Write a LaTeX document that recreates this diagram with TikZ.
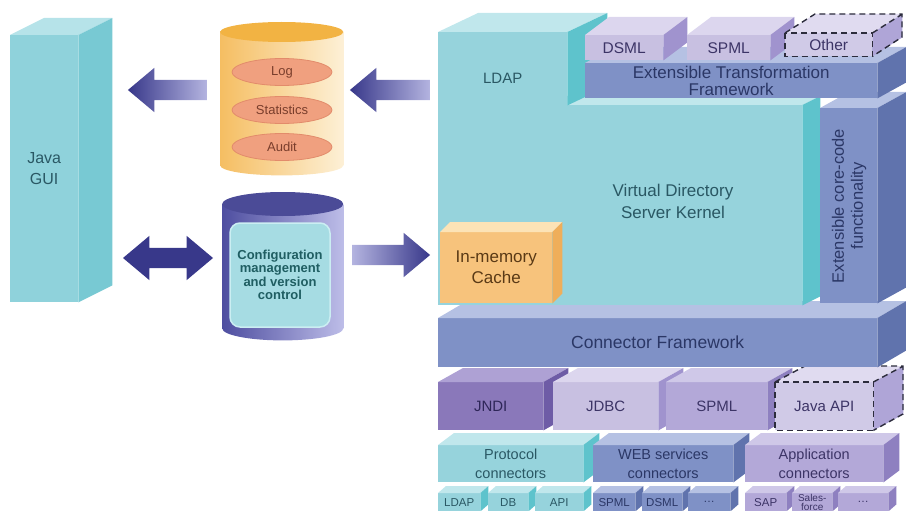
\documentclass[tikz,border=0pt]{standalone}
\usepackage{fontspec}
\setmainfont{Liberation Sans}
\usetikzlibrary{shapes.geometric,shapes.arrows}

% box colours: front, top, side, text
\definecolor{guibox}{HTML}{8FD2DB}
\definecolor{guiboxtop}{HTML}{B6E3E9}
\definecolor{guiboxside}{HTML}{78C9D3}
\definecolor{cyanbox}{HTML}{96D3DC}
\definecolor{cyanboxtop}{HTML}{C0E7EC}
\definecolor{cyanboxside}{HTML}{5EC3CC}
\definecolor{cyanboxtx}{HTML}{2A5864}
\definecolor{slatebox}{HTML}{7F91C6}
\definecolor{slateboxtop}{HTML}{B5C1E3}
\definecolor{slateboxside}{HTML}{6073AD}
\definecolor{slateboxtx}{HTML}{2B3766}
\definecolor{lilacbox}{HTML}{C8C0E1}
\definecolor{lilacboxtop}{HTML}{DCD6EE}
\definecolor{lilacboxside}{HTML}{A093CE}
\definecolor{lilacboxtx}{HTML}{3C3466}
\definecolor{lavbox}{HTML}{B3A8D8}
\definecolor{lavboxtop}{HTML}{CFC8E8}
\definecolor{lavboxside}{HTML}{8E80C0}
\definecolor{lavboxtx}{HTML}{3C3466}
\definecolor{purplebox}{HTML}{8A78BA}
\definecolor{purpleboxtop}{HTML}{AEA1D4}
\definecolor{purpleboxside}{HTML}{6E5CA6}
\definecolor{purpleboxtx}{HTML}{2E2658}
\definecolor{dashbox}{HTML}{D0CAE7}
\definecolor{dashboxtop}{HTML}{E0DBF0}
\definecolor{dashboxside}{HTML}{AFA5D7}
\definecolor{dashline}{HTML}{2C2C3C}
\definecolor{cachebox}{HTML}{F7C37C}
\definecolor{cacheboxtop}{HTML}{FCE3B6}
\definecolor{cacheboxside}{HTML}{EFAE5A}
\definecolor{cacheboxtx}{HTML}{5A3A16}
% stores and arrows
\definecolor{logbody}{HTML}{F5BE62}
\definecolor{logbodylight}{HTML}{FDF0D6}
\definecolor{logtop}{HTML}{F2B343}
\definecolor{entryfill}{HTML}{F0A07F}
\definecolor{entryline}{HTML}{E28B6B}
\definecolor{entrytx}{HTML}{7A3E2C}
\definecolor{cfgbody}{HTML}{4E4EA0}
\definecolor{cfgbodylight}{HTML}{BDBDE8}
\definecolor{cfgtop}{HTML}{4B4B97}
\definecolor{cfgfill}{HTML}{A6DCE3}
\definecolor{cfgline}{HTML}{CBEEF2}
\definecolor{cfgtx}{HTML}{1F5E62}
\definecolor{arrowdark}{HTML}{38388A}
\definecolor{arrowlight}{HTML}{B4B4E0}

\tikzset{
  blk/.style={rectangle, inner sep=0pt, anchor=north west, align=center},
  entry/.style={ellipse, fill=entryfill, draw=entryline, line width=0.8pt,
    minimum width=100pt, minimum height=27pt, inner sep=0pt, text=entrytx,
    font=\fontsize{13}{15}\selectfont},
  cfgbox/.style={rectangle, rounded corners=10pt, fill=cfgfill, draw=cfgline,
    line width=1.5pt, minimum width=100pt, minimum height=104pt, align=center,
    text=cfgtx, font=\fontsize{13}{13.5}\selectfont\bfseries},
  bigarrow/.style={single arrow, single arrow head extend=12pt,
    single arrow tip angle=80, minimum width=44pt, inner sep=10pt},
  botharrow/.style={double arrow, double arrow head extend=12pt,
    double arrow tip angle=80, minimum width=44pt, inner sep=10pt},
  dashedge/.style={draw=dashline, dashed, dash pattern=on 6pt off 4pt, line width=1.4pt}
}

% top and side face of a block node: node, dx, dy, colour
\newcommand{\blockfaces}[4]{%
  \fill[fill=#4top] (#1.north west) -- ++(#2,#3) -- ([shift={(#2,#3)}]#1.north east) -- (#1.north east) -- cycle;
  \fill[fill=#4side] (#1.north east) -- ++(#2,#3) -- ([shift={(#2,#3)}]#1.south east) -- (#1.south east) -- cycle;
}

\begin{document}
\begin{tikzpicture}[x=1pt, y=-1pt]
\useasboundingbox (0,0) rectangle (906,511);
\clip (0,0) rectangle (906,511);

% Java GUI
\node[blk, fill=guibox, text=cyanboxtx, minimum width=68pt, minimum height=267pt,
  font=\fontsize{16}{21}\selectfont] (gui) at (10,35) {Java\\GUI};
\blockfaces{gui}{34}{-17}{guibox}

% Log store
\node[inner sep=0pt, minimum width=123pt, minimum height=133pt, anchor=north west] (logdb) at (220,32) {};
\shade[left color=logbody, right color=logbodylight] (logdb.north west) rectangle (logdb.south east);
\shade[left color=logbody, right color=logbodylight] (logdb.south) ellipse [x radius=61.5, y radius=10];
\fill[logtop] (logdb.north) ellipse [x radius=61.5, y radius=10];
\foreach \n/\y/\txt in {log/72/Log, stats/110/Statistics, audit/147/Audit}
  \node[entry] (\n) at (282,\y) {\txt};

% Configuration store
\node[inner sep=0pt, minimum width=121pt, minimum height=124pt, anchor=north west] (cfgdb) at (222,204) {};
\shade[left color=cfgbody, right color=cfgbodylight] (cfgdb.north west) rectangle (cfgdb.south east);
\shade[left color=cfgbody, right color=cfgbodylight] (cfgdb.south) ellipse [x radius=60.5, y radius=12];
\fill[cfgtop] (cfgdb.north) ellipse [x radius=60.5, y radius=12];
\node[cfgbox] (cfg) at (280,275) {Configuration\\management\\and version\\control};

% Arrows
\node[bigarrow, shape border rotate=180, left color=arrowdark, right color=arrowlight,
  minimum height=79pt] (loggui) at (173.5,90) {};
\node[bigarrow, shape border rotate=180, left color=arrowdark, right color=arrowlight,
  minimum height=80pt] (kernellog) at (396,90) {};
\node[botharrow, left color=arrowdark, middle color=arrowlight, right color=arrowdark,
  minimum height=90pt] (guicfg) at (168,258) {};
\node[bigarrow, left color=arrowlight, right color=arrowdark,
  minimum height=78pt] (cfgcache) at (385,255) {};

% Single connectors
\foreach \i/\x/\w/\col/\fs/\txt in {1/438/42/cyanbox/11.5/LDAP, 2/488/40/cyanbox/11.5/DB,
    3/535/48/cyanbox/11.5/API, 4/593/42/slatebox/11.5/SPML, 5/642/40/slatebox/11.5/DSML,
    6/688/42/slatebox/11.5/\dots, 7/745/41/lavbox/11.5/SAP, 8/792/40/lavbox/10/{Sales-\\force},
    9/838/50/lavbox/11.5/\dots}
  {
    \node[blk, fill=\col, text=\col tx, minimum width=\w pt, minimum height=18pt,
      font=\fontsize{\fs}{9}\selectfont] (con-\i) at (\x,493) {\txt};
    \blockfaces{con-\i}{8}{-7}{\col}
  }

% Connector groups
\foreach \i/\x/\w/\col/\txt in {1/438/145/cyanbox/{Protocol\\connectors},
    2/593/140/slatebox/{WEB services\\connectors}, 3/745/138/lavbox/{Application\\connectors}}
  {
    \node[blk, fill=\col, text=\col tx, minimum width=\w pt, minimum height=37pt,
      font=\fontsize{14.5}{19}\selectfont] (grp-\i) at (\x,445) {\txt};
    \blockfaces{grp-\i}{16}{-12}{\col}
  }

% APIs
\foreach \i/\x/\w/\col/\txt in {1/438/105/purplebox/JNDI, 2/553/105/lilacbox/JDBC, 3/666/101/lavbox/SPML}
  {
    \node[blk, fill=\col, text=\col tx, minimum width=\w pt, minimum height=48pt,
      font=\fontsize{15}{18}\selectfont] (api-\i) at (\x,382) {\txt};
    \blockfaces{api-\i}{25}{-14}{\col}
  }
\node[blk, fill=dashbox, text=lilacboxtx, minimum width=98pt, minimum height=48pt,
  font=\fontsize{15}{18}\selectfont] (javaapi) at (775,382) {Java API};
\blockfaces{javaapi}{30}{-16}{dashbox}
\draw[dashedge] (javaapi.north west) rectangle (javaapi.south east);
\draw[dashedge] (javaapi.north west) -- ++(30,-16) -- ++(98,0) -- ++(0,48) -- (javaapi.south east)
  (javaapi.north east) -- ++(30,-16);

% Connector Framework
\node[blk, fill=slatebox, text=slateboxtx, minimum width=439pt, minimum height=49pt,
  font=\fontsize{17.5}{20}\selectfont] (cf) at (438,318) {Connector Framework};
\blockfaces{cf}{29}{-17}{slatebox}

% Kernel
\node[blk, fill=cyanbox, minimum width=364pt, minimum height=200pt] (kernel) at (438,105) {};
\blockfaces{kernel}{18}{-9}{cyanbox}
\node[text=cyanboxtx, align=center, font=\fontsize{17}{22}\selectfont] (kerneltitle) at (673,201)
  {Virtual Directory\\Server Kernel};
\node[blk, fill=cachebox, text=cacheboxtx, minimum width=112pt, minimum height=71pt,
  font=\fontsize{17}{21}\selectfont] (cache) at (440,232) {In-memory\\Cache};
\blockfaces{cache}{10}{-10}{cachebox}

% Extensible core-code
\node[blk, fill=slatebox, minimum width=57pt, minimum height=195pt] (ecc) at (820,108) {};
\blockfaces{ecc}{29}{-16}{slatebox}
\node[rotate=90, text=slateboxtx, align=center, font=\fontsize{16.5}{19}\selectfont] (ecctitle)
  at (849,206) {Extensible core-code\\functionality};

% LDAP
\node[blk, fill=cyanbox, text=cyanboxtx, minimum width=129pt, minimum height=73pt,
  text height=30pt, text depth=0pt, font=\fontsize{15}{18}\selectfont] (ldap) at (438,32) {LDAP};
\blockfaces{ldap}{40}{-19}{cyanbox}

% Extensible Transformation Framework
\node[blk, fill=slatebox, text=slateboxtx, minimum width=292pt, minimum height=35pt,
  font=\fontsize{17}{16.5}\selectfont] (etf) at (585,63) {Extensible Transformation\\Framework};
\blockfaces{etf}{29}{-16}{slatebox}

% Transformations
\foreach \i/\x/\w/\txt in {1/585/78/DSML, 2/687/83/SPML}
  {
    \node[blk, fill=lilacbox, text=lilacboxtx, minimum width=\w pt, minimum height=25pt,
      font=\fontsize{15.5}{18}\selectfont] (tr-\i) at (\x,35) {\txt};
    \blockfaces{tr-\i}{24}{-18}{lilacbox}
  }
\node[blk, fill=dashbox, text=lilacboxtx, minimum width=87pt, minimum height=23pt,
  font=\fontsize{15.5}{18}\selectfont] (other) at (785,33) {Other};
\blockfaces{other}{30}{-19}{dashbox}
\draw[dashedge] (other.north west) rectangle (other.south east);
\draw[dashedge] (other.north west) -- ++(30,-19) -- ++(87,0) -- ++(0,23) -- (other.south east)
  (other.north east) -- ++(30,-19);

\end{tikzpicture}
\end{document}
